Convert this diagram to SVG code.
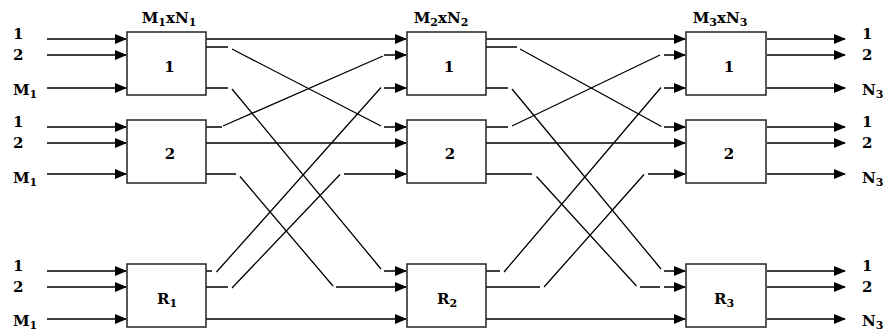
<svg xmlns="http://www.w3.org/2000/svg" width="885" height="332" viewBox="0 0 885 332">
<style>
.box{fill:#fff;stroke:#222;stroke-width:1.5}
.c{fill:none;stroke:#000;stroke-width:1.3}
.t{font-family:"DejaVu Serif","Liberation Serif",serif;font-weight:bold;font-size:15px;fill:#000}
.m{text-anchor:middle}
</style>
<defs>
<marker id="ah" markerUnits="userSpaceOnUse" markerWidth="12" markerHeight="10" refX="11" refY="5" orient="auto">
<path d="M0,0 L12,5 L0,10 z" fill="#000"/>
</marker>
</defs>
<g id="connectors">
<g class="c" marker-end="url(#ah)">
<path d="M47,39 H126"/><path d="M47,55 H126"/><path d="M47,88 H126"/>
<path d="M47,127 H126"/><path d="M47,143 H126"/><path d="M47,174 H126"/>
<path d="M47,271 H126"/><path d="M47,287 H126"/><path d="M47,319 H126"/>
<path d="M206,39 H406"/>
<path d="M206,47 H228 M232,49 L381,126 M384,127 H406"/>
<path d="M206,88 H228 M232,89 L381,269 M384,271 H406"/>
<path d="M206,127 H222 M223,126 L383,56 M384,55 H406"/>
<path d="M206,143 H406"/>
<path d="M206,174 H236 M240,176.5 L333,286 M336,287 H406"/>
<path d="M206,271 H212 M216.5,272 L381,87.5 M384,88 H406"/>
<path d="M206,287 H228 M232,288 L340,174.5 M344,174 H406"/>
<path d="M206,319 H406"/>
<path d="M486,39 H685"/>
<path d="M486,47 H517 M520,49 L661.5,126.5 M664,127 H685"/>
<path d="M486,88 H508 M512,89 L661,269 M664,271 H685"/>
<path d="M486,127 H508 M512,126 L660,55 M664,55 H685"/>
<path d="M486,143 H685"/>
<path d="M486,174 H532 M536.5,176.5 L636.5,286 M640,287 H660 M664,287 H685"/>
<path d="M486,271 H500 M504,272 L661,87.5 M664,88 H685"/>
<path d="M486,287 H540 M544,287 L644,174.5 M648,174 H685"/>
<path d="M486,319 H685"/>
<path d="M767,39 H845"/><path d="M767,55 H845"/><path d="M767,88 H845"/>
<path d="M767,127 H845"/><path d="M767,143 H845"/><path d="M767,174 H845"/>
<path d="M767,271 H845"/><path d="M767,287 H845"/><path d="M767,319 H845"/>
</g>
</g>
<g id="s1-1"><rect class="box" x="127" y="32" width="79" height="63"/><text class="t m" x="169.5" y="71.5">1</text></g>
<g id="s1-2"><rect class="box" x="127" y="120" width="79" height="63"/><text class="t m" x="170" y="159">2</text></g>
<g id="s1-r"><rect class="box" x="127" y="264" width="79" height="63"/><text class="t m" x="167" y="303.5">R<tspan font-size="11" dy="3">1</tspan></text></g>
<g id="s2-1"><rect class="box" x="407" y="32" width="79" height="63"/><text class="t m" x="449" y="71.5">1</text></g>
<g id="s2-2"><rect class="box" x="407" y="120" width="79" height="63"/><text class="t m" x="450" y="159">2</text></g>
<g id="s2-r"><rect class="box" x="407" y="264" width="79" height="63"/><text class="t m" x="447" y="303.5">R<tspan font-size="11" dy="3">2</tspan></text></g>
<g id="s3-1"><rect class="box" x="686" y="32" width="80" height="63"/><text class="t m" x="729" y="71.5">1</text></g>
<g id="s3-2"><rect class="box" x="686" y="120" width="80" height="63"/><text class="t m" x="729" y="159">2</text></g>
<g id="s3-r"><rect class="box" x="686" y="264" width="80" height="63"/><text class="t m" x="724" y="303.5">R<tspan font-size="11" dy="3">3</tspan></text></g>
<g id="headers">
<text class="t m" x="169" y="22.5">M<tspan font-size="11" dy="3">1</tspan><tspan dy="-3">xN</tspan><tspan font-size="11" dy="3">1</tspan></text>
<text class="t m" x="441" y="22.5">M<tspan font-size="11" dy="3">2</tspan><tspan dy="-3">xN</tspan><tspan font-size="11" dy="3">2</tspan></text>
<text class="t m" x="720" y="22.5">M<tspan font-size="11" dy="3">3</tspan><tspan dy="-3">xN</tspan><tspan font-size="11" dy="3">3</tspan></text>
</g>
<g id="in-labels">
<text class="t" x="13" y="38.5">1</text><text class="t" x="13" y="59.5">2</text><text class="t" x="13" y="94.5">M<tspan font-size="11" dy="3">1</tspan></text>
<text class="t" x="13" y="127">1</text><text class="t" x="13" y="148">2</text><text class="t" x="13" y="182.5">M<tspan font-size="11" dy="3">1</tspan></text>
<text class="t" x="13" y="271">1</text><text class="t" x="13" y="292">2</text><text class="t" x="13" y="326">M<tspan font-size="11" dy="3">1</tspan></text>
</g>
<g id="out-labels">
<text class="t" x="862" y="38.5">1</text><text class="t" x="862" y="59.5">2</text><text class="t" x="862" y="94.5">N<tspan font-size="11" dy="3">3</tspan></text>
<text class="t" x="862" y="127">1</text><text class="t" x="862" y="148">2</text><text class="t" x="862" y="182.5">N<tspan font-size="11" dy="3">3</tspan></text>
<text class="t" x="862" y="271">1</text><text class="t" x="862" y="292">2</text><text class="t" x="862" y="326">N<tspan font-size="11" dy="3">3</tspan></text>
</g>
</svg>
